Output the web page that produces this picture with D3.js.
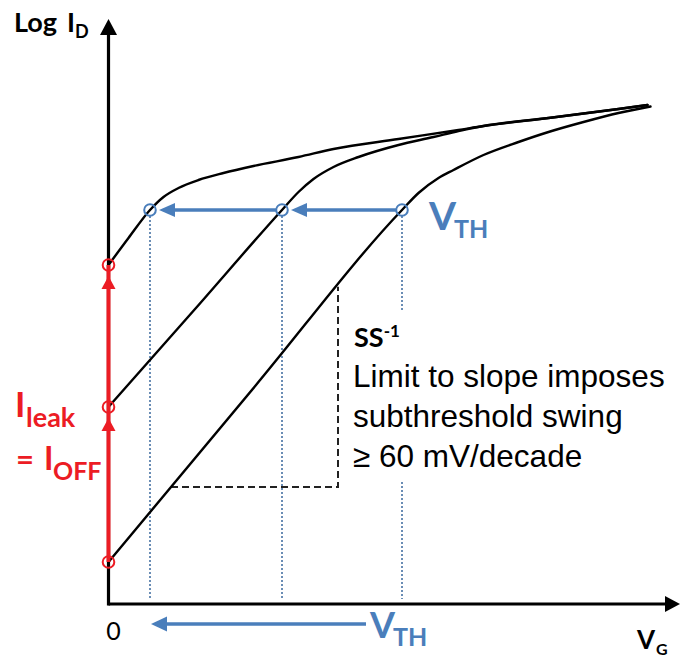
<!DOCTYPE html>
<html>
<head>
<meta charset="utf-8">
<script src="https://cdn.jsdelivr.net/npm/d3@7"></script>
<style>
  html, body { margin: 0; padding: 0; background: #fff; }
  svg { display: block; }
</style>
</head>
<body>
<script>
// Transfer characteristics: log drain current versus gate voltage for three devices
// (arbitrary units: 1 V_G unit, 1 decade of I_D)

// Curves as [V_G, log I_D] pairs
const curveHighLeak = [[0, 3.39], [0.2, 3.66], [0.415, 3.94], [0.55, 4.07], [0.7, 4.16], [0.9, 4.24],
  [1.15, 4.31], [1.45, 4.38], [1.9, 4.47], [2.25, 4.55], [2.9, 4.65], [3.5, 4.74], [3.75, 4.78],
  [4.4, 4.86], [5.1, 4.95], [5.39, 4.99]];
const curveMidLeak = [[0, 1.97], [0.87, 2.955], [1.735, 3.94], [1.9, 4.12], [2.05, 4.25], [2.25, 4.37],
  [2.5, 4.47], [2.9, 4.59], [3.25, 4.67], [3.5, 4.73], [3.75, 4.78], [4.4, 4.86], [5.1, 4.95], [5.39, 4.99]];
const curveLowLeak = [[0, 0.42], [1.467, 2.18], [2.935, 3.94], [3.1, 4.11], [3.3, 4.26], [3.45, 4.34],
  [3.75, 4.49], [4.1, 4.62], [4.4, 4.72], [4.75, 4.82], [5.1, 4.91], [5.42, 4.975]];

// Threshold points (same current level on every curve)
const vthValues = [0.415, 1.735, 2.935];
const vthLogId = 3.94;

// Off-state leakage levels at V_G = 0
const leakLogId = [3.39, 1.97, 0.42];

// Run of the subthreshold-slope triangle on the low-leakage curve
const ssRun = [0.625, 2.295];

// Tick labels
const vgTickValues = [0];
const vgTickLabels = ["0"];

// Text
const annotationLines = ["Limit to slope imposes", "subthreshold swing", "\u2265 60 mV/decade"];

const W = 680, H = 657;
const BLUE = "#4a7ebb", RED = "#ec1c24", DOT = "#6a8db5";
const LABEL_FONT = "Lato, 'Open Sans', sans-serif";
const BODY_FONT = "'Liberation Sans', Arial, sans-serif";

const x = d3.scaleLinear().domain([0, 5.715]).range([108.5, 680]);
const y = d3.scaleLinear().domain([0, 5.85]).range([604, 19]);

const svg = d3.select("body").append("svg").attr("width", W).attr("height", H);

// ---- axes ----
const x0 = x(0), y0 = y(0);
svg.append("line").attr("x1", x0).attr("x2", x.range()[1] - 12)
  .attr("y1", y0).attr("y2", y0).attr("stroke", "#000").attr("stroke-width", 3.2);
svg.append("line").attr("x1", x0).attr("x2", x0)
  .attr("y1", y0 + 1.6).attr("y2", y.range()[1] + 12).attr("stroke", "#000").attr("stroke-width", 3.2);
// arrowheads
svg.append("path")
  .attr("d", `M${x.range()[1]},${y0} L${x.range()[1] - 15},${y0 - 8} L${x.range()[1] - 15},${y0 + 8} Z`)
  .attr("fill", "#000");
svg.append("path")
  .attr("d", `M${x0},${y.range()[1]} L${x0 - 8.5},${y.range()[1] + 16} L${x0 + 8.5},${y.range()[1] + 16} Z`)
  .attr("fill", "#000");

// tick label "0"
const xAxis = d3.axisBottom(x).tickValues(vgTickValues)
  .tickFormat((d, i) => vgTickLabels[i]).tickSize(0).tickPadding(0);
const gx = svg.append("g").attr("transform", `translate(0,${y0})`).call(xAxis);
gx.select(".domain").remove();
gx.selectAll("text").attr("font-family", LABEL_FONT).attr("font-size", 25)
  .attr("fill", "#000").attr("dy", null).attr("y", 36).attr("dx", 4.5);

// axis titles
svg.append("text").attr("x", 14).attr("y", 32).attr("font-family", LABEL_FONT)
  .attr("font-weight", 700).attr("font-size", 27).text("Log");
svg.append("text").attr("x", 67).attr("y", 32).attr("font-family", LABEL_FONT)
  .attr("font-weight", 700).attr("font-size", 27).text("I");
svg.append("text").attr("x", 75).attr("y", 38).attr("font-family", LABEL_FONT)
  .attr("font-weight", 700).attr("font-size", 18).text("D");

svg.append("text").attr("x", 637).attr("y", 649).attr("font-family", LABEL_FONT)
  .attr("font-weight", 700).attr("font-size", 26).text("V");
svg.append("text").attr("x", 656).attr("y", 655).attr("font-family", LABEL_FONT)
  .attr("font-weight", 700).attr("font-size", 16).text("G");

// ---- dotted threshold drop lines ----
const dropTop = y(vthLogId) + 6, dropBottom = y0 - 5;
const dropSegments = [
  [vthValues[0], dropTop, dropBottom],
  [vthValues[1], dropTop, dropBottom],
  [vthValues[2], dropTop, y(2.92)],
  [vthValues[2], y(1.22), dropBottom]
];
svg.append("g").selectAll("line").data(dropSegments).join("line")
  .attr("x1", d => x(d[0])).attr("x2", d => x(d[0]))
  .attr("y1", d => d[1]).attr("y2", d => d[2])
  .attr("stroke", DOT).attr("stroke-width", 2).attr("stroke-dasharray", "2,2");

// ---- subthreshold slope triangle ----
const lowSlope = (curveLowLeak[2][1] - curveLowLeak[0][1]) / (curveLowLeak[2][0] - curveLowLeak[0][0]);
const lowAt = v => curveLowLeak[0][1] + lowSlope * v;
svg.append("path")
  .attr("d", `M${x(ssRun[0])},${y(lowAt(ssRun[0]))} L${x(ssRun[1])},${y(lowAt(ssRun[0]))} L${x(ssRun[1])},${y(lowAt(ssRun[1]))}`)
  .attr("fill", "none").attr("stroke", "#222").attr("stroke-width", 2).attr("stroke-dasharray", "7,4");

// ---- curves ----
const line = d3.line().x(d => x(d[0])).y(d => y(d[1])).curve(d3.curveMonotoneX);
svg.append("g").selectAll("path").data([curveHighLeak, curveMidLeak, curveLowLeak]).join("path")
  .attr("d", line).attr("fill", "none").attr("stroke", "#000").attr("stroke-width", 2.4)
  .attr("stroke-linecap", "round");

// ---- leakage: red arrow up the current axis ----
svg.append("line").attr("x1", x0).attr("x2", x0)
  .attr("y1", y(leakLogId[2])).attr("y2", y(leakLogId[0]))
  .attr("stroke", RED).attr("stroke-width", 4);
svg.append("g").selectAll("path").data(leakLogId.slice(0, 2)).join("path")
  .attr("d", d => `M${x0},${y(d) + 11} L${x0 - 7},${y(d) + 24} L${x0 + 7},${y(d) + 24} Z`)
  .attr("fill", RED);
svg.append("g").selectAll("circle").data(leakLogId).join("circle")
  .attr("cx", x0).attr("cy", d => y(d)).attr("r", 5.8)
  .attr("fill", "none").attr("stroke", RED).attr("stroke-width", 2);

// ---- threshold shift arrows ----
const yv = y(vthLogId);
const arrowPairs = [[vthValues[2], vthValues[1]], [vthValues[1], vthValues[0]]];
svg.append("g").selectAll("line").data(arrowPairs).join("line")
  .attr("x1", d => x(d[0]) - 6).attr("x2", d => x(d[1]) + 22)
  .attr("y1", yv).attr("y2", yv).attr("stroke", BLUE).attr("stroke-width", 3.5);
svg.append("g").selectAll("path").data(arrowPairs).join("path")
  .attr("d", d => `M${x(d[1]) + 9},${yv} L${x(d[1]) + 25},${yv - 7} L${x(d[1]) + 25},${yv + 7} Z`)
  .attr("fill", BLUE);
svg.append("g").selectAll("circle").data(vthValues).join("circle")
  .attr("cx", d => x(d)).attr("cy", yv).attr("r", 5.8)
  .attr("fill", "none").attr("stroke", BLUE).attr("stroke-width", 2);

// bottom arrow: threshold moves toward zero
const yb = 624;
svg.append("line").attr("x1", 366).attr("x2", x(vthValues[0]) + 15)
  .attr("y1", yb).attr("y2", yb).attr("stroke", BLUE).attr("stroke-width", 3.5);
svg.append("path")
  .attr("d", `M${x(vthValues[0]) + 1},${yb} L${x(vthValues[0]) + 17},${yb - 7.5} L${x(vthValues[0]) + 17},${yb + 7.5} Z`)
  .attr("fill", BLUE);

// V_TH labels
function vthLabel(px, py, big) {
  svg.append("text").attr("x", px).attr("y", py).attr("font-family", LABEL_FONT)
    .attr("font-weight", 700).attr("font-size", big).attr("fill", BLUE).text("V");
  svg.append("text").attr("x", px + big * 0.64).attr("y", py + 8).attr("font-family", LABEL_FONT)
    .attr("font-weight", 700).attr("font-size", 25).attr("fill", BLUE).text("TH");
}
vthLabel(429, 230, 39);
vthLabel(370, 638, 36);

// ---- leakage label ----
const leakG = svg.append("g").attr("font-family", LABEL_FONT).attr("font-weight", 700).attr("fill", RED);
leakG.append("text").attr("x", 15).attr("y", 417).attr("font-size", 35).text("I");
leakG.append("text").attr("x", 26).attr("y", 427).attr("font-size", 27).text("leak");
leakG.append("text").attr("x", 16).attr("y", 470).attr("font-size", 31).text("=");
leakG.append("text").attr("x", 44).attr("y", 470).attr("font-size", 32).text("I");
leakG.append("text").attr("x", 53).attr("y", 480).attr("font-size", 25).text("OFF");

// ---- subthreshold swing annotation ----
const ss = svg.append("text").attr("x", 354).attr("y", 347).attr("font-family", LABEL_FONT)
  .attr("font-weight", 700).attr("font-size", 27);
ss.append("tspan").text("SS");
ss.append("tspan").attr("dy", -10).attr("font-size", 17).text("-1");

svg.append("g").selectAll("text").data(annotationLines).join("text")
  .attr("x", 353).attr("y", (d, i) => 387 + i * 40)
  .attr("font-family", BODY_FONT).attr("font-size", 31.5).attr("fill", "#000")
  .text(d => d);
</script>
</body>
</html>
